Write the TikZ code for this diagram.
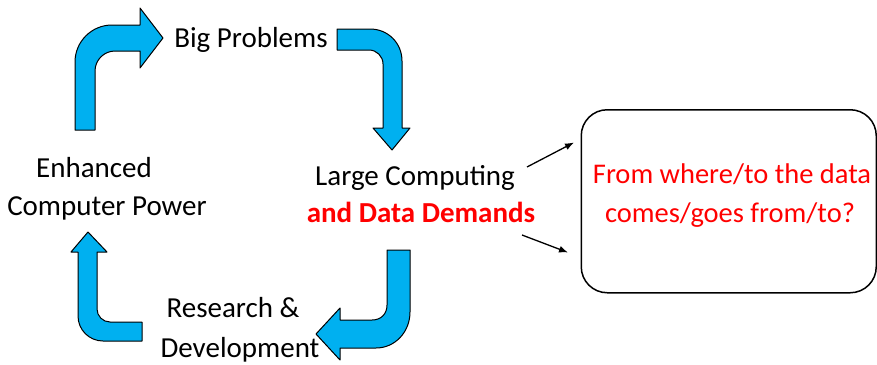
\documentclass[tikz,border=0pt]{standalone}
\usepackage{fontspec}
\setmainfont{Carlito}
\usetikzlibrary{arrows.meta}
\definecolor{arrblue}{HTML}{00B0F0}
\definecolor{txtred}{HTML}{FF0000}
\tikzset{
  bigarrow/.style={fill=arrblue, draw=black, line width=1pt, line join=round},
  lbl/.style={inner sep=0pt, anchor=base, font=\fontsize{29}{38}\selectfont},
  redlbl/.style={lbl, text=txtred},
  qbox/.style={draw=black, line width=1.5pt, rounded corners=26pt},
  conn/.style={draw=black, line width=1.3pt, -{Latex[length=9pt,width=7pt]}}
}
\begin{document}
\begin{tikzpicture}[x=1pt,y=-1pt]
\useasboundingbox (0,0) rectangle (877,364);
% blue arrows
\path[bigarrow] (75,130) -- (75,62) .. controls (75,41.6) and (91.6,25) .. (112,25)
  -- (140,25) -- (140,8) -- (163,38) -- (140,68) -- (140,51) -- (115,51)
  .. controls (104,51) and (95,60) .. (95,71) -- (95,130) -- cycle;
\path[bigarrow] (337,29) -- (370,29) .. controls (388,29) and (402,43) .. (402,61)
  -- (402,128) -- (410,128) -- (392,150) -- (373,128) -- (383,128) -- (383,64)
  .. controls (383,56.3) and (376.7,50) .. (369,50) -- (337,50) -- cycle;
\path[bigarrow] (387,250) -- (410,250) -- (410,312) .. controls (410,332) and (395,348) .. (376,348)
  -- (340,348) -- (340,360) -- (316,334) -- (340,308) -- (340,320) -- (372,320)
  .. controls (381,320) and (387,314) .. (387,305) -- cycle;
\path[bigarrow] (142,322) -- (142,341) -- (103,341) .. controls (89.2,341) and (78,329.8) .. (78,316)
  -- (78,252) -- (71,252) -- (88,232) -- (107,252) -- (97,252) -- (97,309)
  .. controls (97,316) and (102.8,322) .. (110,322) -- cycle;
% labels
\node[lbl] (bp) at (251,47) {Big Problems};
\node[lbl] (en1) at (94,177) {Enhanced};
\node[lbl] (en2) at (107,215) {Computer Power};
\node[lbl] (lc1) at (415,185) {Large Computing};
\node[redlbl, font=\fontsize{29}{38}\selectfont\bfseries] (lc2) at (421,222) {and Data Demands};
\node[lbl] (rd1) at (233,317) {Research \&};
\node[lbl] (rd2) at (240,357) {Development};
% box
\node[qbox, minimum width=295pt, minimum height=183pt, anchor=north west, inner sep=0pt] (box) at (580.5,109) {};
\node[redlbl, font=\fontsize{28.5}{37}\selectfont] (q1) at (732,183) {From where/to the data};
\node[redlbl, font=\fontsize{28.5}{37}\selectfont] (q2) at (730,222) {comes/goes from/to?};
% connectors
\coordinate (s1) at (527,167);
\coordinate (e1) at (574,142.5);
\coordinate (s2) at (522,235);
\coordinate (e2) at (568,252.5);
\draw[conn] (s1) -- (e1);
\draw[conn] (s2) -- (e2);
\end{tikzpicture}
\end{document}
